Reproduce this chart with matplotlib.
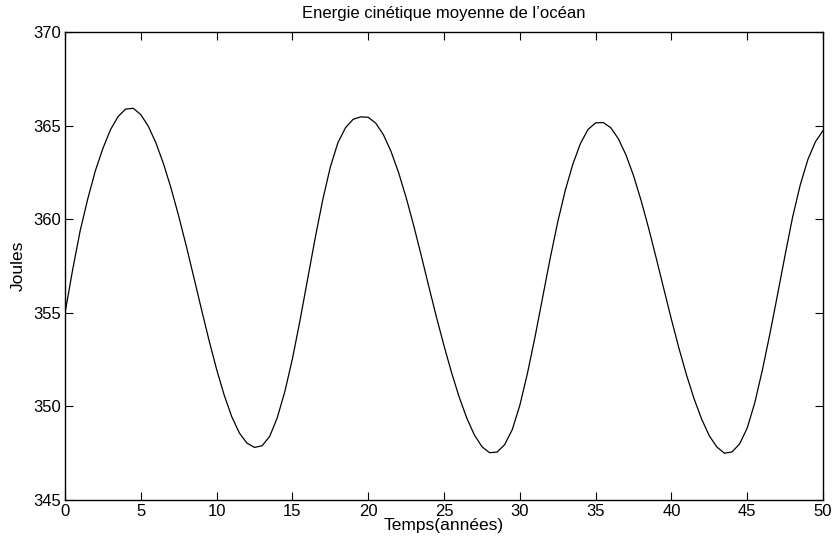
import matplotlib
matplotlib.use('Agg')
import matplotlib.pyplot as plt
import numpy as np

plt.rcParams['font.family'] = ['Liberation Sans', 'DejaVu Sans']

# energie cinetique moyenne (Joules), un point tous les 0.5 ans de 0 a 50
annees = np.arange(0, 50.5, 0.5)
energie = [355.0, 357.3, 359.4, 361.1, 362.6, 363.8, 364.8, 365.5, 365.9, 365.94,
           365.6, 364.97, 364.08, 362.96, 361.65, 360.17, 358.57, 356.89, 355.19, 353.53,
           351.98, 350.6, 349.45, 348.58, 348.04, 347.81, 347.9, 348.4, 349.4, 350.8,
           352.55, 354.6, 356.8, 359.0, 361.05, 362.8, 364.1, 364.9, 365.35, 365.48,
           365.46, 365.14, 364.53, 363.64, 362.51, 361.17, 359.67, 358.06, 356.4, 354.78,
           353.24, 351.8, 350.5, 349.38, 348.48, 347.85, 347.53, 347.56, 347.96, 348.76,
           350.06, 351.76, 353.71, 355.81, 357.91, 359.86, 361.56, 362.96, 364.06, 364.81,
           365.16, 365.18, 364.9, 364.31, 363.45, 362.34, 361.01, 359.52, 357.92, 356.28,
           354.65, 353.1, 351.67, 350.4, 349.31, 348.43, 347.83, 347.5, 347.57, 348.0,
           348.85, 350.2, 351.95, 353.9, 355.98, 358.1, 360.15, 361.85, 363.2, 364.15,
           364.75]

xticks = [0, 5, 10, 15, 20, 25, 30, 35, 40, 45, 50]
yticks = [345, 350, 355, 360, 365, 370]

fig = plt.figure(figsize=(8.37, 5.4), dpi=100)
ax = fig.add_axes([0.0777, 0.0741, 0.9056, 0.866])

ax.plot(annees, energie, color='k', linewidth=0.9)

ax.set_xlim(0, 50)
ax.set_ylim(345, 370)
ax.set_xticks(xticks)
ax.set_yticks(yticks)
ax.tick_params(direction='in', top=True, right=True, length=5.5, width=0.8,
               labelsize=12, pad=3)
for s in ax.spines.values():
    s.set_linewidth(1.0)

ax.set_title("Energie cinétique moyenne de l\u2019océan", fontsize=12, pad=10)
ax.set_xlabel("Temps(années)", fontsize=12.5, labelpad=-1)
ax.set_ylabel("Joules", fontsize=12.5, labelpad=5)

fig.savefig('out.png', dpi=100)
